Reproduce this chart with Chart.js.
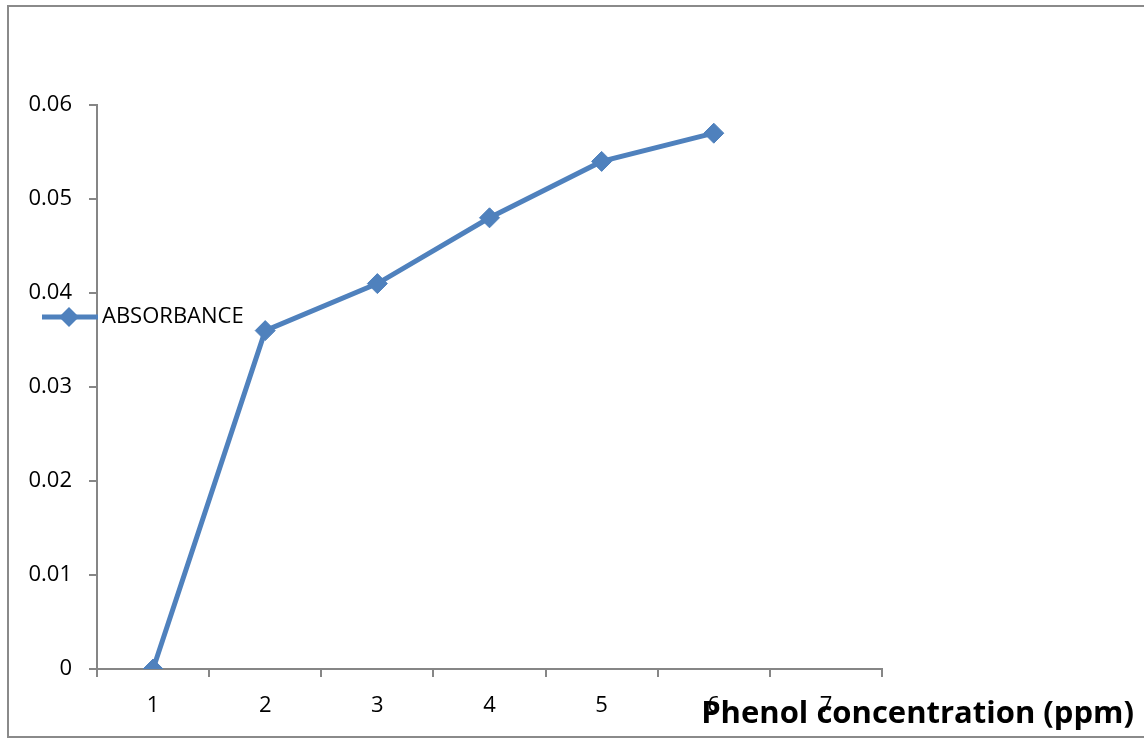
<!DOCTYPE html>
<html>
<head>
<meta charset="utf-8">
<script src="https://cdn.jsdelivr.net/npm/chart.js@4"></script>
<style>
  html, body { margin: 0; padding: 0; background: #fff; }
  #wrap { width: 1144px; height: 744px; }
</style>
</head>
<body>
<div id="wrap"><canvas id="chart" width="1144" height="744"></canvas></div>
<script>
// data
const concentration = ['1', '2', '3', '4', '5', '6', '7'];
const absorbance = [0, 0.036, 0.041, 0.048, 0.054, 0.057];
const yMin = 0;
const yMax = 0.06;
const yStep = 0.01;

const seriesName = 'ABSORBANCE';
const xTitle = 'Phenol concentration (ppm)';

const blue = '#4F81BD';
const axisGrey = '#868686';
const font = "'Open Sans', sans-serif";

// outer frame, legend and axis title drawn by hand (Excel style placement)
const decorations = {
  id: 'decorations',
  beforeDraw(chart) {
    const ctx = chart.ctx;
    ctx.save();
    ctx.fillStyle = '#fff';
    ctx.fillRect(0, 0, chart.width, chart.height);
    ctx.strokeStyle = '#8a8a8a';
    ctx.lineWidth = 2;
    ctx.strokeRect(8, 6, 1150, 731);
    ctx.restore();
  },
  afterDraw(chart) {
    const ctx = chart.ctx;
    const ds = chart.data.datasets[0];
    ctx.save();
    // legend
    const ly = 317;
    ctx.strokeStyle = ds.borderColor;
    ctx.lineWidth = 5;
    ctx.beginPath();
    ctx.moveTo(42, ly);
    ctx.lineTo(98, ly);
    ctx.stroke();
    ctx.fillStyle = ds.borderColor;
    ctx.beginPath();
    ctx.moveTo(69, ly - 10);
    ctx.lineTo(79, ly);
    ctx.lineTo(69, ly + 10);
    ctx.lineTo(59, ly);
    ctx.closePath();
    ctx.fill();
    ctx.fillStyle = '#000';
    ctx.font = "22px " + font;
    ctx.textBaseline = 'middle';
    ctx.textAlign = 'left';
    ctx.fillText(ds.label, 102, ly);
    // x axis title, bottom right
    ctx.font = "bold 31px " + font;
    ctx.textAlign = 'right';
    ctx.textBaseline = 'alphabetic';
    ctx.fillText(xTitle, 1134, 723);
    ctx.restore();
  }
};

new Chart(document.getElementById('chart'), {
  type: 'line',
  data: {
    labels: concentration,
    datasets: [{
      label: seriesName,
      data: absorbance,
      borderColor: blue,
      backgroundColor: blue,
      borderWidth: 5,
      pointStyle: 'rectRot',
      pointRadius: 10,
      pointBorderWidth: 1,
      pointBackgroundColor: blue,
      pointBorderColor: blue,
      tension: 0
    }]
  },
  options: {
    responsive: false,
    animation: false,
    layout: { padding: { left: 0, top: 105, right: 262, bottom: 0 } },
    plugins: {
      legend: { display: false },
      tooltip: { enabled: false }
    },
    scales: {
      x: {
        type: 'category',
        offset: true,
        grid: {
          offset: true,
          drawOnChartArea: false,
          drawTicks: true,
          tickLength: 8,
          color: axisGrey,
          lineWidth: 2
        },
        border: { display: true, color: axisGrey, width: 2 },
        ticks: {
          color: '#000',
          font: { family: font, size: 22 },
          padding: 16,
          maxRotation: 0
        },
        afterFit(scale) { scale.height = 75; }
      },
      y: {
        min: yMin,
        max: yMax,
        grid: {
          drawOnChartArea: false,
          drawTicks: true,
          tickLength: 8,
          color: axisGrey,
          lineWidth: 2
        },
        border: { display: true, color: axisGrey, width: 2 },
        ticks: {
          stepSize: yStep,
          color: '#000',
          font: { family: font, size: 22 },
          padding: 17,
          callback: v => String(+v.toFixed(2))
        },
        afterFit(scale) { scale.width = 97; }
      }
    }
  },
  plugins: [decorations]
});
</script>
</body>
</html>
